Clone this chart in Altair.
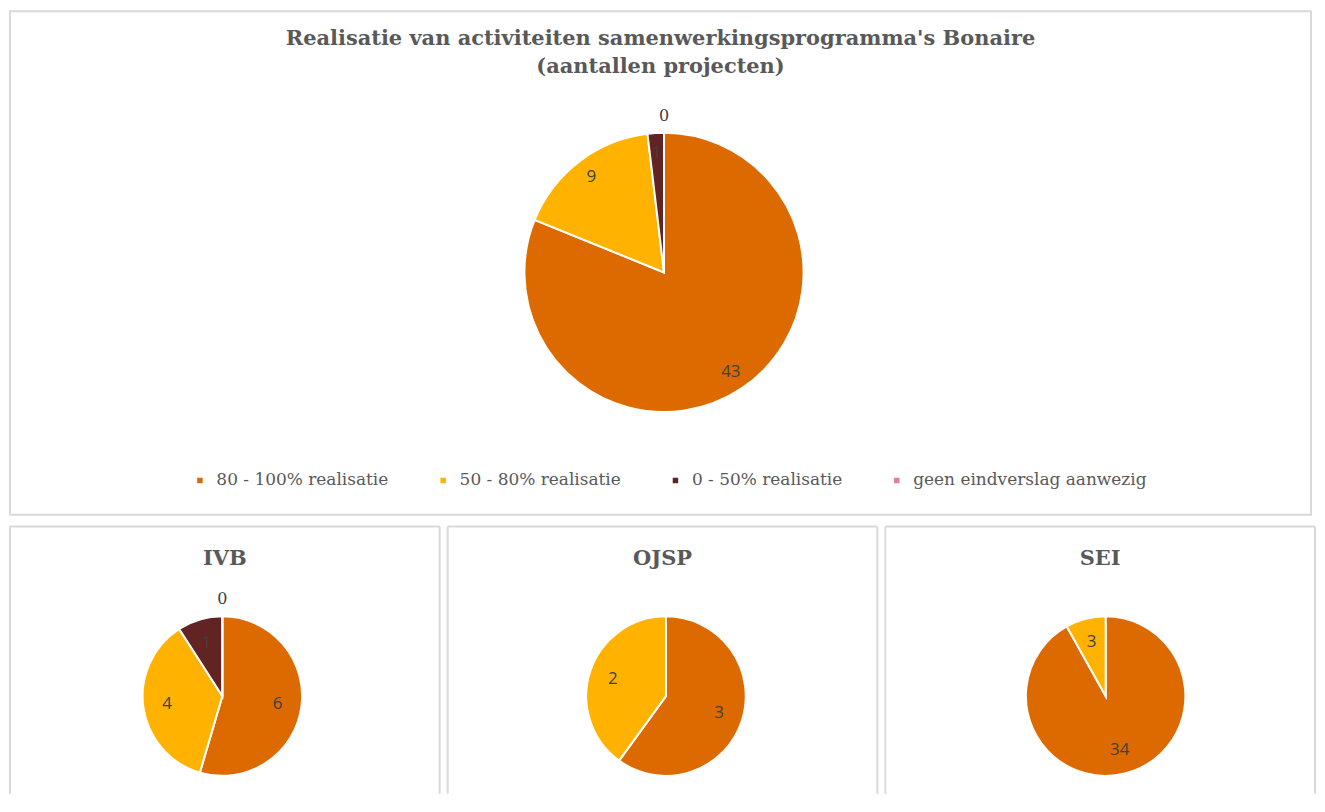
import altair as alt
import pandas as pd

categories = ["80 - 100% realisatie", "50 - 80% realisatie", "0 - 50% realisatie", "geen eindverslag aanwezig"]
colors = ["#DC6A00", "#FFB300", "#622423", "#E37F93"]

totaal_values = [43, 9, 1, 0]
ivb_values = [6, 4, 1, 0]
ojsp_values = [3, 2]
sei_values = [34, 3]

main_title = "Realisatie van activiteiten samenwerkingsprogramma's Bonaire\n(aantallen projecten)"
ivb_title = "IVB"
ojsp_title = "OJSP"
sei_title = "SEI"

SERIF = "DejaVu Serif"
SANS = "Open Sans"
GREY = "#595959"
BORDER = "#d9d9d9"

color_scale = alt.Scale(domain=categories, range=colors)


def frame(values):
    return pd.DataFrame({
        "categorie": categories[:len(values)],
        "aantal": values,
        "volgorde": list(range(len(values))),
    })


def pie(values, title, title_size, title_y, w, h, cx, cy, r, label_r, zero_r, legend, closed):
    base = alt.Chart(frame(values)).encode(
        theta=alt.Theta("aantal:Q", stack=True),
        order=alt.Order("volgorde:Q"),
    )
    arc = base.mark_arc(outerRadius=r, stroke="white", strokeWidth=2, x=cx, y=cy).encode(
        color=alt.Color("categorie:N", scale=color_scale, legend=legend, sort=categories)
    )
    labels = base.transform_filter("datum.aantal > 0").mark_text(
        radius=label_r, x=cx, y=cy, font=SANS, fontSize=17, color="#404040"
    ).encode(text="aantal:Q")
    zeros = base.transform_filter("datum.aantal == 0").mark_text(
        radius=zero_r, x=cx, y=cy, font=SERIF, fontSize=16, color="#404040"
    ).encode(text="aantal:Q")

    tdf = pd.DataFrame({"titel": [title]})
    ttl = alt.Chart(tdf).mark_text(
        font=SERIF, fontSize=title_size, fontWeight="bold", color=GREY,
        lineBreak="\n", lineHeight=28, baseline="middle", align="center",
    ).encode(text="titel:N", x=alt.value(w / 2), y=alt.value(title_y))

    one = alt.Chart(pd.DataFrame({"k": [0]}))
    if closed:
        border = [one.mark_rect(fill="transparent", stroke=BORDER, strokeWidth=2).encode(
            x=alt.value(0), x2=alt.value(w), y=alt.value(0), y2=alt.value(h))]
    else:
        border = [
            one.mark_rule(stroke=BORDER, strokeWidth=2).encode(
                x=alt.value(0), x2=alt.value(w), y=alt.value(0)),
            one.mark_rule(stroke=BORDER, strokeWidth=2).encode(
                x=alt.value(0), y=alt.value(0), y2=alt.value(h)),
            one.mark_rule(stroke=BORDER, strokeWidth=2).encode(
                x=alt.value(w), y=alt.value(0), y2=alt.value(h)),
        ]
    return alt.layer(*border, arc, labels, zeros, ttl).properties(width=w, height=h)


legend = alt.Legend(
    title=None, orient="none", direction="horizontal", legendX=182, legendY=462,
    symbolType="square", symbolSize=49, labelFont=SERIF, labelFontSize=17,
    labelColor=GREY, labelLimit=400, columnPadding=46, labelOffset=8, columns=4,
)

main = pie(totaal_values, main_title, 21, 28, 1305, 505, 656, 262, 140, 120, 157, legend, True)
ivb = pie(ivb_values, ivb_title, 21, 32, 431, 268, 213, 170, 80, 56, 97, None, False)
ojsp = pie(ojsp_values, ojsp_title, 21, 32, 431, 268, 219, 170, 80, 56, 97, None, False)
sei = pie(sei_values, sei_title, 21, 32, 431, 268, 221, 170, 80, 56, 97, None, False)

chart = alt.vconcat(
    main,
    alt.hconcat(ivb, ojsp, sei, spacing=6),
    spacing=10,
).properties(
    padding={"left": 1, "top": 1, "right": 1, "bottom": 1},
    background="white",
).configure_view(stroke=None)

chart.save("out.html", embed_options={"renderer": "svg", "actions": False})
